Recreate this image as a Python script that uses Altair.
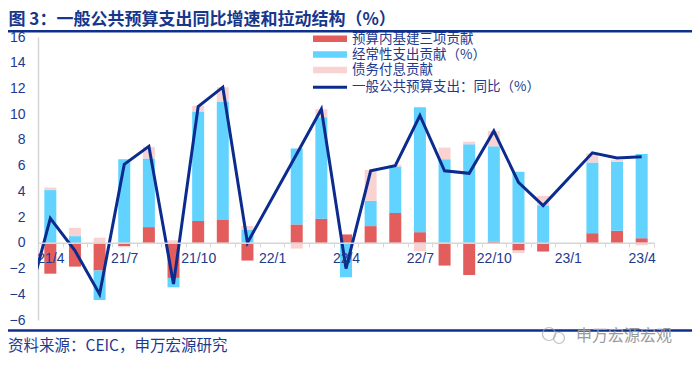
import altair as alt
import pandas as pd

# ---------------- data ----------------
months = ["21/3", "21/4", "21/5", "21/6", "21/7", "21/8", "21/9", "21/10", "21/11", "21/12",
          "22/1", "22/2", "22/3", "22/4", "22/5", "22/6", "22/7", "22/8", "22/9", "22/10",
          "22/11", "22/12", "23/1", "23/2", "23/3", "23/4"]
infra = [None, -2.4, -1.85, -2.15, -0.25, 1.22, -2.73, 1.7, 1.82, -1.38,
         None, 1.43, 1.88, 0.65, 1.3, 2.32, 0.83, -1.77, -2.5, 0.1,
         -0.6, -0.68, None, 0.75, 0.94, 0.36]
recurring = [None, 4.1, 0.52, -2.3, 6.5, 5.34, -0.73, 8.5, 9.17, 1.0,
             None, 5.9, 7.89, -2.68, 1.96, 3.6, 9.7, 6.5, 7.66, 7.4,
             5.52, 2.92, None, 5.5, 5.36, 6.54]
interest = [None, 0.2, 0.65, 0.4, -0.1, 0.9, 0.2, 0.45, 1.1, 0.3,
            None, -0.45, 0.62, 0.0, 2.4, 0.15, -0.65, 0.9, 0.2, 1.2,
            -0.2, 0.73, None, 0.7, 0.13, -0.2]
total = [-5.3, 1.9, -0.6, -4.0, 6.1, 7.5, -3.2, 10.6, 12.1, 0.0,
         None, 6.9, 10.4, -2.0, 5.6, 6.0, 9.9, 5.6, 5.4, 8.7,
         4.7, 2.9, None, 7.0, 6.6, 6.7]

series_names = ["预算内基建三项贡献", "经常性支出贡献（%）", "债务付息贡献"]
line_name = "一般公共预算支出：同比（%）"
y_ticks = [-6, -4, -2, 0, 2, 4, 6, 8, 10, 12, 14, 16]
title_text = "图 3：一般公共预算支出同比增速和拉动结构（%）"
source_text = "资料来源：CEIC，申万宏源研究"
watermark_text = "申万宏源宏观"

# ---------------- styles ----------------
colors = ["#E35D5D", "#62D3FF", "#F9D2D2"]
line_color = "#0B2C8E"
text_color = "#1E3A8E"
axis_gray = "#D6D6D6"
CJK = "Noto Sans CJK SC"
LAT = "Liberation Sans"

rows = []
for i, m in enumerate(months):
    for k, (name, vals) in enumerate(zip(series_names, [infra, recurring, interest])):
        v = vals[i]
        if v is not None:
            rows.append({"idx": i - 1, "month": m, "series": name, "order": k, "value": v})
bars_df = pd.DataFrame(rows)
line_df = pd.DataFrame([{"idx": i - 1, "month": m, "value": v}
                        for i, (m, v) in enumerate(zip(months, total)) if v is not None])

W, H = 616, 283
n_cat = len(months) - 1
half_step = W / n_cat / 2
ymin, ymax = y_ticks[0], y_ticks[-1]
zero_offset = -(H * (0 - ymin) / (ymax - ymin))

xlabels = months[1::3]
label_js = "[" + ",".join("'" + s + "'" for s in xlabels) + "]"

xscale = alt.Scale(domain=[-0.5, n_cat - 0.5], nice=False, zero=False, padding=0)
yscale = alt.Scale(domain=[ymin, ymax], nice=False, zero=False, padding=0)

xaxis = alt.Axis(
    values=[k - 0.5 for k in range(n_cat + 1)],
    labelExpr=f"((datum.value + 0.5) % 3 == 0) ? {label_js}[(datum.value + 0.5) / 3] : ''",
    labelOffset=half_step, labelFlush=False, labelOverlap=False, labelBound=False,
    tickSize=4, tickColor=axis_gray, domainColor=axis_gray, domainWidth=1.5,
    labelPadding=5, labelFontSize=14, labelFont=LAT, labelColor=text_color,
    grid=False, title=None, offset=zero_offset, zindex=1,
)
yaxis = alt.Axis(
    values=y_ticks, ticks=False, domainColor=axis_gray, domainWidth=1.5,
    labelOverlap=False, labelBound=False, labelFlush=False,
    labelPadding=13, labelFontSize=14, labelFont=LAT, labelColor=text_color,
    grid=False, title=None,
)

bars = alt.Chart(bars_df).mark_bar(size=12).encode(
    x=alt.X("idx:Q", scale=xscale, axis=xaxis),
    y=alt.Y("value:Q", scale=yscale, stack="zero", axis=yaxis),
    color=alt.Color("series:N", scale=alt.Scale(domain=series_names, range=colors), legend=None),
    order=alt.Order("order:Q"),
)

line = alt.Chart(line_df).mark_line(color=line_color, strokeWidth=3, clip=True).encode(
    x=alt.X("idx:Q", scale=xscale, axis=xaxis),
    y=alt.Y("value:Q", scale=yscale, axis=yaxis),
)

one = pd.DataFrame({"a": [0]})
layers = [bars, line]

# legend (manual)
leg_x0, leg_x1, leg_tx = 275, 309, 314
leg_rows = [1.7, 17.5, 33.0, 50.3]
for name, c, yc in zip(series_names, colors, leg_rows[:3]):
    layers.append(alt.Chart(one).mark_rect(color=c).encode(
        x=alt.value(leg_x0), x2=alt.value(leg_x1), y=alt.value(yc - 3.3), y2=alt.value(yc + 3.3)))
layers.append(alt.Chart(one).mark_rule(color=line_color, strokeWidth=3).encode(
    x=alt.value(leg_x0), x2=alt.value(leg_x1), y=alt.value(leg_rows[3])))
for name, yc in zip(series_names + [line_name], leg_rows):
    layers.append(alt.Chart(one).mark_text(align="left", baseline="middle", font=CJK,
                                           fontSize=13.5, color=text_color).encode(
        x=alt.value(leg_tx), y=alt.value(yc), text=alt.value(name)))

# title, rules, source, watermark
layers.append(alt.Chart(one).mark_text(align="left", baseline="middle", font=CJK, fontSize=17,
                                       fontWeight="bold", color="#17378C").encode(
    x=alt.value(-29.5), y=alt.value(-17.5), text=alt.value(title_text)))
layers.append(alt.Chart(one).mark_rule(color="#0E2F8C", strokeWidth=2.5).encode(
    x=alt.value(-30), x2=alt.value(654), y=alt.value(-5.8)))
layers.append(alt.Chart(one).mark_rule(color="#0E2F8C", strokeWidth=2.5).encode(
    x=alt.value(-30), x2=alt.value(654), y=alt.value(293.5)))
layers.append(alt.Chart(one).mark_text(align="left", baseline="middle", font=CJK, fontSize=15.5,
                                       color=text_color).encode(
    x=alt.value(-30), y=alt.value(309), text=alt.value(source_text)))
layers.append(alt.Chart(one).mark_point(shape="circle", filled=False, color="#A8A8A8",
                                        strokeWidth=1.2, size=170).encode(
    x=alt.value(511), y=alt.value(297)))
layers.append(alt.Chart(one).mark_point(shape="circle", filled=False, color="#A8A8A8",
                                        strokeWidth=1.2, size=120).encode(
    x=alt.value(521), y=alt.value(301)))
layers.append(alt.Chart(one).mark_text(align="left", baseline="middle", font=CJK, fontSize=16,
                                       color="#9A9A9A").encode(
    x=alt.value(538), y=alt.value(299), text=alt.value(watermark_text)))

chart = alt.layer(*layers).properties(
    width=W, height=H,
    autosize=alt.AutoSizeParams(type="none"),
    padding={"left": 30, "top": 29, "right": 38, "bottom": 37},
    background="white",
).configure_view(stroke=None)

chart.save("out.html", embed_options={"renderer": "svg", "actions": False})
